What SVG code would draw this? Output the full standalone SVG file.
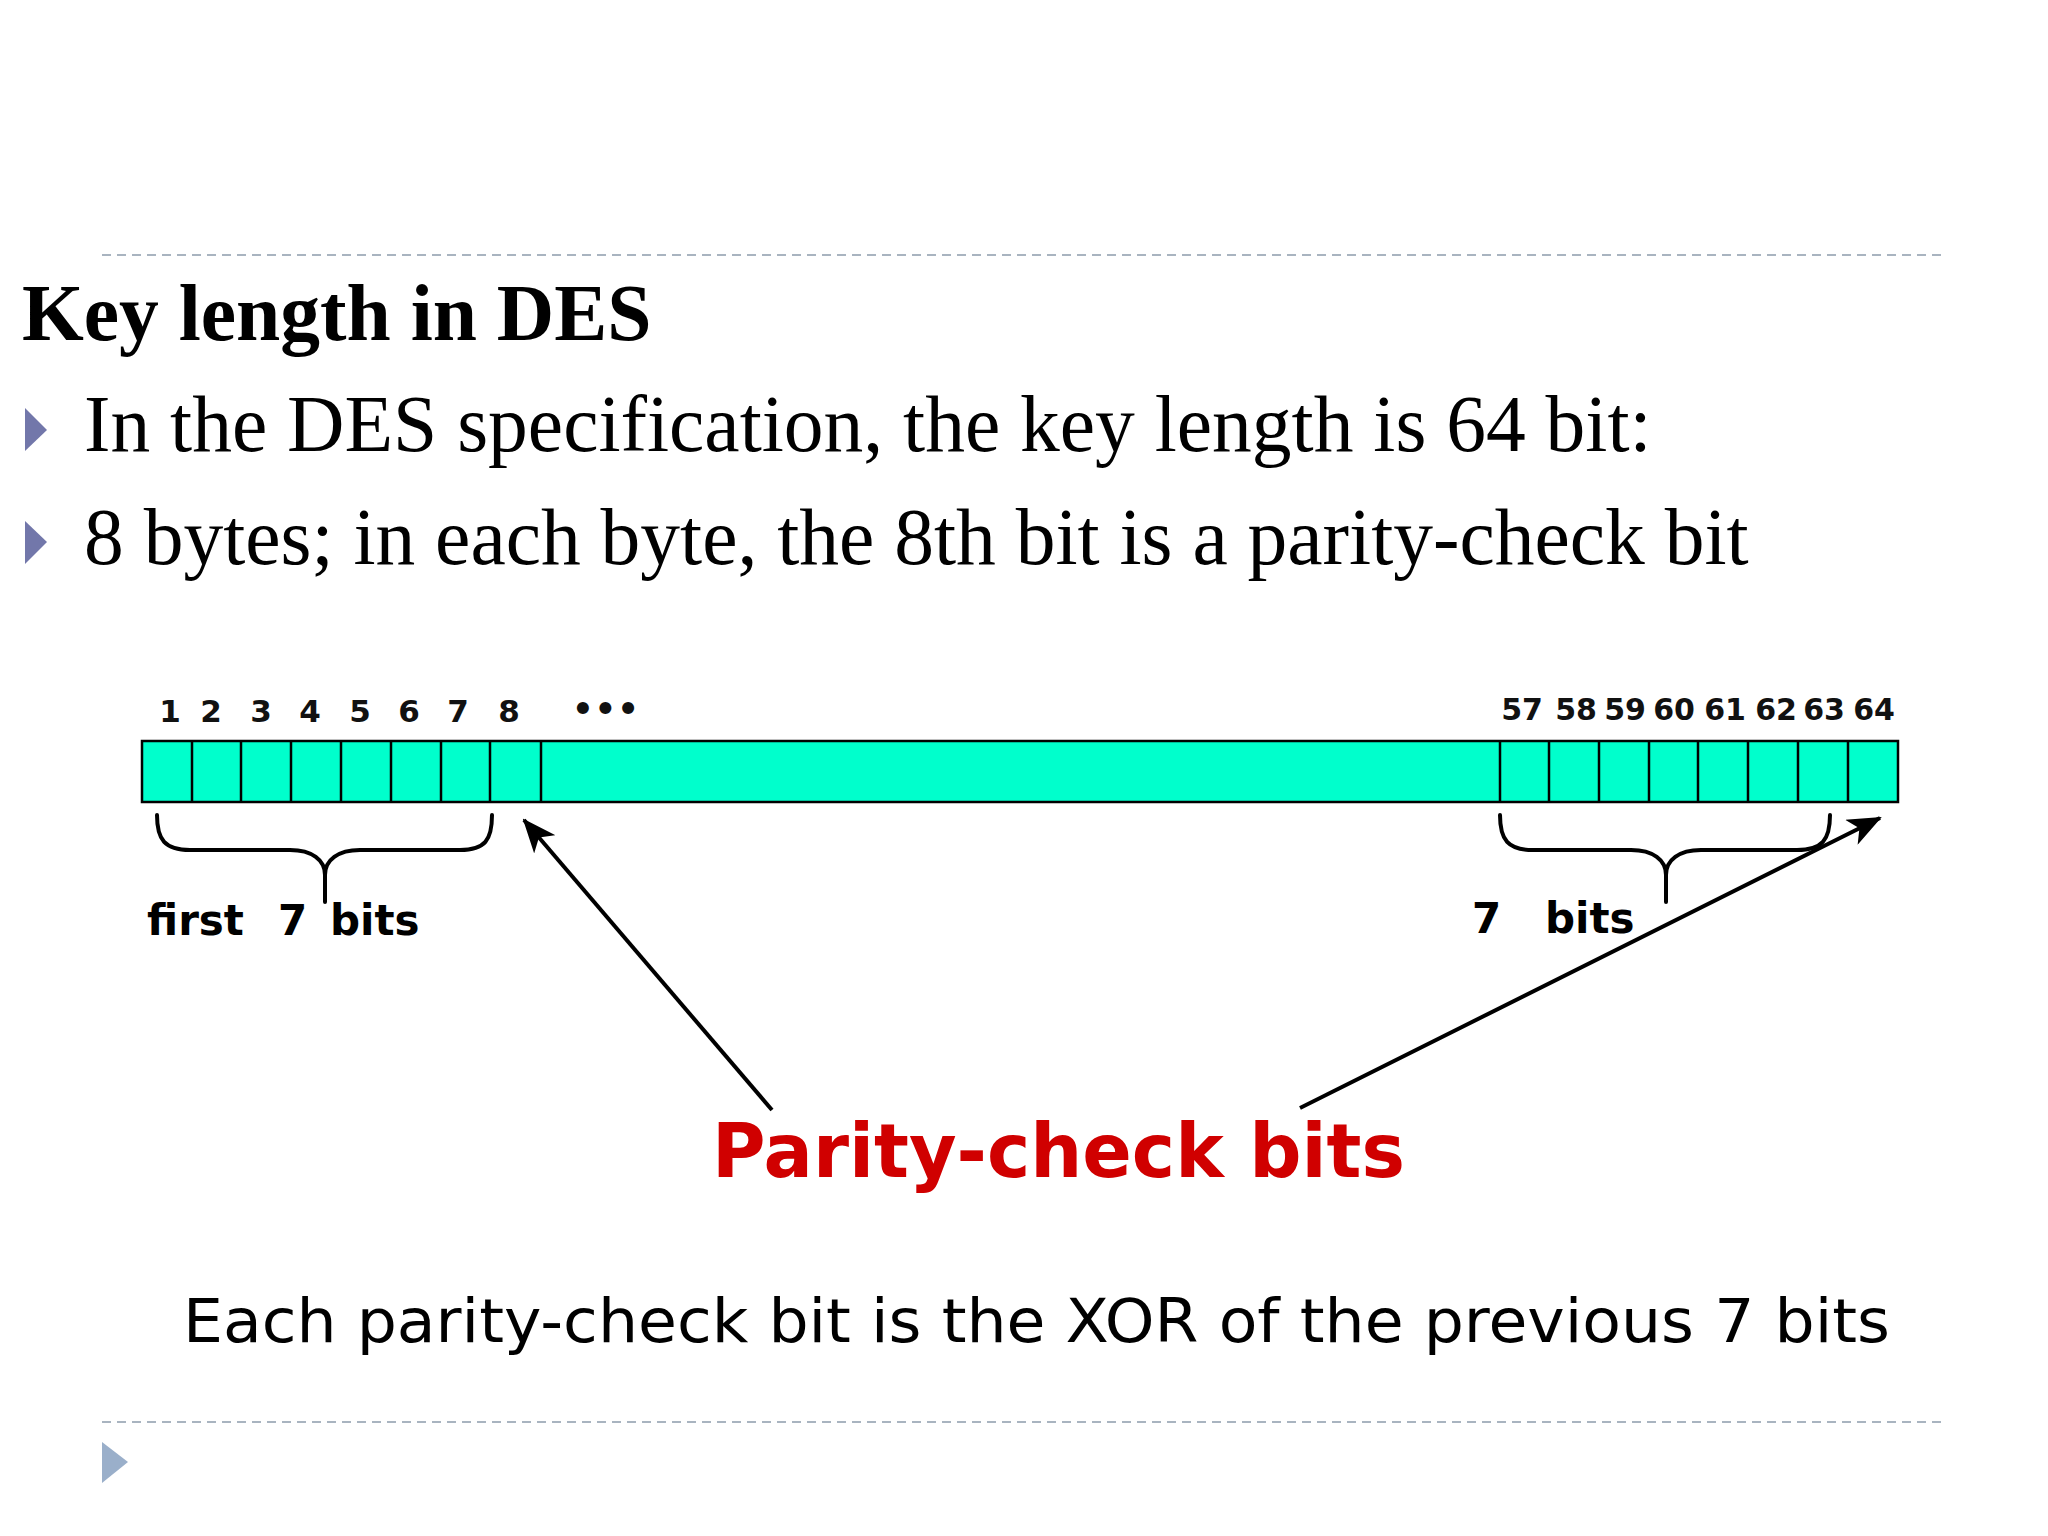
<svg xmlns="http://www.w3.org/2000/svg" width="2048" height="1536" viewBox="0 0 2048 1536">
<style>
.serif{font-family:"Liberation Serif","Times New Roman",serif;fill:#000}
.num{font-family:"DejaVu Sans","Liberation Sans",sans-serif;font-weight:bold;fill:#111}
.lbl{font-family:"DejaVu Sans","Liberation Sans",sans-serif;font-weight:bold;fill:#000}
.dash{stroke:#a9b4c0;stroke-width:2;stroke-dasharray:9 6;fill:none}
.cell{stroke:#000;stroke-width:2.5}
.brace{fill:none;stroke:#000;stroke-width:4;stroke-linecap:round}
.arrow{stroke:#000;stroke-width:4;fill:none}
</style>
<defs>
<marker id="ah" markerUnits="userSpaceOnUse" markerWidth="34" markerHeight="28" viewBox="0 0 34 28" refX="32" refY="14" orient="auto">
<path d="M0,0 L34,14 L0,28 L9,14 z" fill="#000"/>
</marker>
</defs>
<rect width="2048" height="1536" fill="#fff"/>
<line class="dash" x1="102" y1="255" x2="1946" y2="255"/>
<line class="dash" x1="102" y1="1422" x2="1946" y2="1422"/>
<polygon points="102,1442 128,1462 102,1483" fill="#9aafca"/>
<g id="title">
<text class="serif" x="22" y="340" font-size="79.5" font-weight="bold">Key length in DES</text>
</g>
<g id="bullets">
<polygon points="25,408 47,430 25,451" fill="#7277aa"/>
<text class="serif" x="84" y="451" font-size="79.5">In the DES specification, the key length is 64 bit:</text>
<polygon points="25,521 47,542 25,564" fill="#7277aa"/>
<text class="serif" x="84" y="564" font-size="79.5">8 bytes; in each byte, the 8th bit is a parity-check bit</text>
</g>
<g id="key-bar">
<rect x="142" y="741" width="1756" height="61" fill="#00ffcc" class="cell"/>
<g class="cell">
<line x1="192" y1="741" x2="192" y2="802"/>
<line x1="241" y1="741" x2="241" y2="802"/>
<line x1="291" y1="741" x2="291" y2="802"/>
<line x1="341" y1="741" x2="341" y2="802"/>
<line x1="391" y1="741" x2="391" y2="802"/>
<line x1="441" y1="741" x2="441" y2="802"/>
<line x1="490" y1="741" x2="490" y2="802"/>
<line x1="541" y1="741" x2="541" y2="802"/>
<line x1="1500" y1="741" x2="1500" y2="802"/>
<line x1="1549" y1="741" x2="1549" y2="802"/>
<line x1="1599" y1="741" x2="1599" y2="802"/>
<line x1="1649" y1="741" x2="1649" y2="802"/>
<line x1="1698" y1="741" x2="1698" y2="802"/>
<line x1="1748" y1="741" x2="1748" y2="802"/>
<line x1="1798" y1="741" x2="1798" y2="802"/>
<line x1="1848" y1="741" x2="1848" y2="802"/>
</g>
</g>
<g id="bit-numbers" text-anchor="middle">
<text class="num" x="170" y="722" font-size="31">1</text>
<text class="num" x="211" y="722" font-size="31">2</text>
<text class="num" x="261" y="722" font-size="31">3</text>
<text class="num" x="310" y="722" font-size="31">4</text>
<text class="num" x="360" y="722" font-size="31">5</text>
<text class="num" x="409" y="722" font-size="31">6</text>
<text class="num" x="458" y="722" font-size="31">7</text>
<text class="num" x="509" y="722" font-size="31">8</text>
<text class="num" x="606" y="721" font-size="34" letter-spacing="1">•••</text>
<text class="num" x="1522" y="720" font-size="30">57</text>
<text class="num" x="1576" y="720" font-size="30">58</text>
<text class="num" x="1625" y="720" font-size="30">59</text>
<text class="num" x="1674" y="720" font-size="30">60</text>
<text class="num" x="1725" y="720" font-size="30">61</text>
<text class="num" x="1776" y="720" font-size="30">62</text>
<text class="num" x="1824" y="720" font-size="30">63</text>
<text class="num" x="1874" y="720" font-size="30">64</text>
</g>
<g id="brace-first">
<path class="brace" d="M157,815 C157,840 165,850 190,850 L290,850 C312,850 325,860 325,875 L325,902 M325,875 C325,860 338,850 360,850 L460,850 C485,850 492,840 492,815"/>
<text class="lbl" font-size="42" y="935"><tspan x="147">first</tspan><tspan x="278">7</tspan><tspan x="330">bits</tspan></text>
</g>
<g id="brace-last">
<path class="brace" d="M1500,815 C1500,840 1508,850 1533,850 L1631,850 C1653,850 1666,860 1666,875 L1666,902 M1666,875 C1666,860 1679,850 1701,850 L1797,850 C1822,850 1830,840 1830,815"/>
<text class="lbl" font-size="42" y="933"><tspan x="1472">7</tspan><tspan x="1545">bits</tspan></text>
</g>
<g id="connectors">
<line class="arrow" x1="772" y1="1110" x2="524" y2="820" marker-end="url(#ah)"/>
<line class="arrow" x1="1300" y1="1108" x2="1880" y2="818" marker-end="url(#ah)"/>
</g>
<g id="parity-label">
<text class="lbl" x="712" y="1177" font-size="74" style="fill:#d00000" textLength="693" lengthAdjust="spacingAndGlyphs">Parity-check bits</text>
</g>
<g id="caption">
<text x="183" y="1342" font-family="DejaVu Sans, Liberation Sans, sans-serif" font-size="61" fill="#000" textLength="1707" lengthAdjust="spacingAndGlyphs">Each parity-check bit is the XOR of the previous 7 bits</text>
</g>
</svg>
